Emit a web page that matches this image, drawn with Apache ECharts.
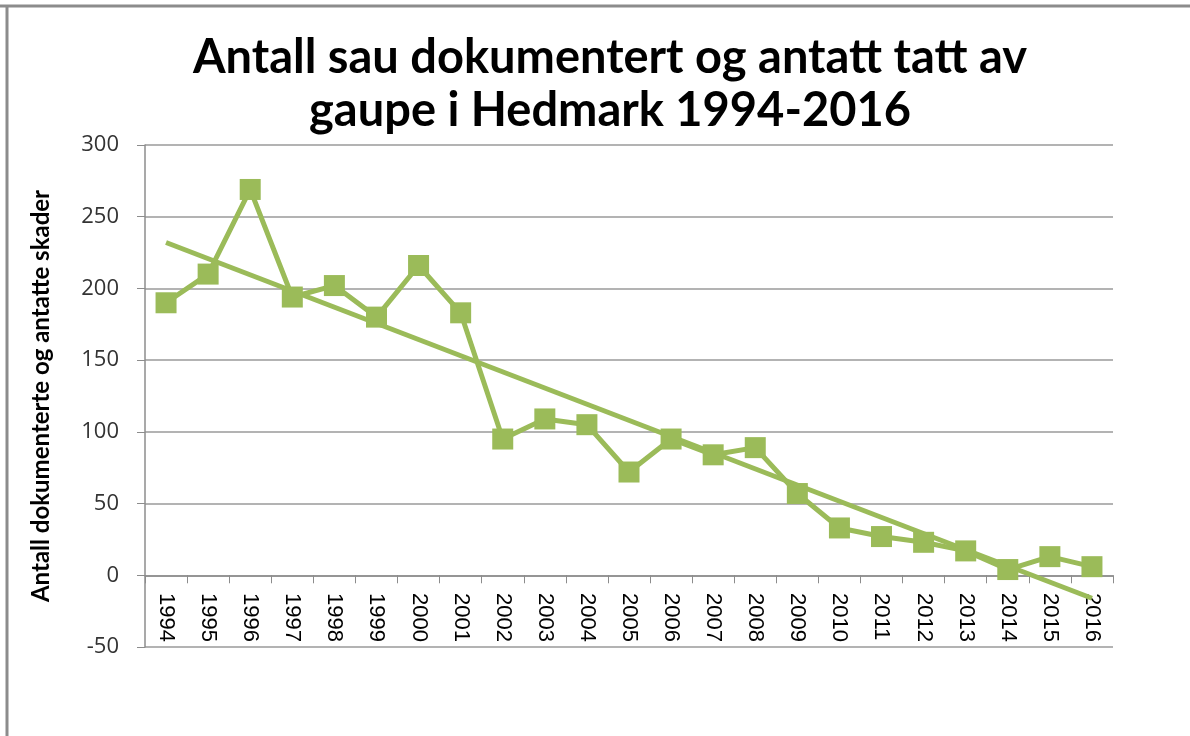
<!DOCTYPE html>
<html lang="no">
<head>
    <meta charset="UTF-8">
    <title>Antall sau tatt av gaupe</title>
    <script src="https://cdn.jsdelivr.net/npm/echarts@6/dist/echarts.min.js"></script>
    <style>
        html, body { margin: 0; padding: 0; background: #fff; }
        #chart { width: 1190px; height: 736px; }
    </style>
</head>
<body>
<div id="chart"></div>
<script type="text/javascript">
    // årstall og antall sau
    var years = ['1994', '1995', '1996', '1997', '1998', '1999', '2000', '2001', '2002', '2003', '2004', '2005',
        '2006', '2007', '2008', '2009', '2010', '2011', '2012', '2013', '2014', '2015', '2016'];
    var sheep = [190, 210, 269, 194, 202, 180, 216, 183, 95, 109, 105, 72,
        95, 84, 89, 57, 33, 27, 23, 17, 4, 13, 6];
    // lineær trendlinje, start og slutt lest av bildet
    var trendYears = ['1994', '2016'];
    var trendValues = [232, -16];
    var yTicks = [-50, 0, 50, 100, 150, 200, 250, 300];

    var green = '#9bbb59';
    var chart = echarts.init(document.getElementById('chart'));

    chart.setOption({
        animation: false,
        title: {
            text: 'Antall sau dokumentert og antatt tatt av\ngaupe i Hedmark 1994-2016',
            left: 605,
            top: 26,
            textAlign: 'center',
            textStyle: {
                fontFamily: 'Lato',
                fontWeight: 'bold',
                fontSize: 47,
                lineHeight: 53,
                color: '#000'
            }
        },
        graphic: [
            { type: 'line', shape: { x1: 0, y1: 6, x2: 1190, y2: 6 }, style: { stroke: '#8c8c8c', lineWidth: 3 } },
            { type: 'line', shape: { x1: 7, y1: 6, x2: 7, y2: 736 }, style: { stroke: '#8c8c8c', lineWidth: 3 } }
        ],
        grid: { left: 145, right: 77, top: 145, bottom: 89 },
        xAxis: {
            type: 'category',
            data: years,
            axisLine: { onZero: true, lineStyle: { color: '#8c8c8c', width: 1.5 } },
            axisTick: { show: true, length: 8, lineStyle: { color: '#8c8c8c' } },
            axisLabel: {
                rotate: -90,
                margin: -54,
                fontFamily: 'Liberation Sans',
                fontSize: 22,
                color: '#000'
            }
        },
        yAxis: {
            type: 'value',
            min: yTicks[0],
            max: yTicks[yTicks.length - 1],
            interval: 50,
            name: 'Antall dokumenterte og antatte skader',
            nameLocation: 'middle',
            nameGap: 92,
            nameTextStyle: { fontFamily: 'Lato', fontWeight: 'bold', fontSize: 24, color: '#000' },
            axisLine: { show: true, lineStyle: { color: '#8c8c8c', width: 1.5 } },
            axisTick: { show: true, length: 8, lineStyle: { color: '#8c8c8c' } },
            axisLabel: { margin: 26, fontFamily: 'Open Sans', fontSize: 22, color: '#333' },
            splitLine: { lineStyle: { color: '#9a9a9a', width: 1.5 } }
        },
        series: [
            {
                name: 'Antall sau',
                type: 'line',
                data: sheep,
                symbol: 'rect',
                symbolSize: 21,
                lineStyle: { color: green, width: 5 },
                itemStyle: { color: green },
                z: 3
            },
            {
                name: 'Lineær trend',
                type: 'line',
                data: trendYears.map(function (y, i) { return [y, trendValues[i]]; }),
                symbol: 'none',
                lineStyle: { color: green, width: 5 },
                z: 2
            }
        ]
    });
</script>
</body>
</html>
